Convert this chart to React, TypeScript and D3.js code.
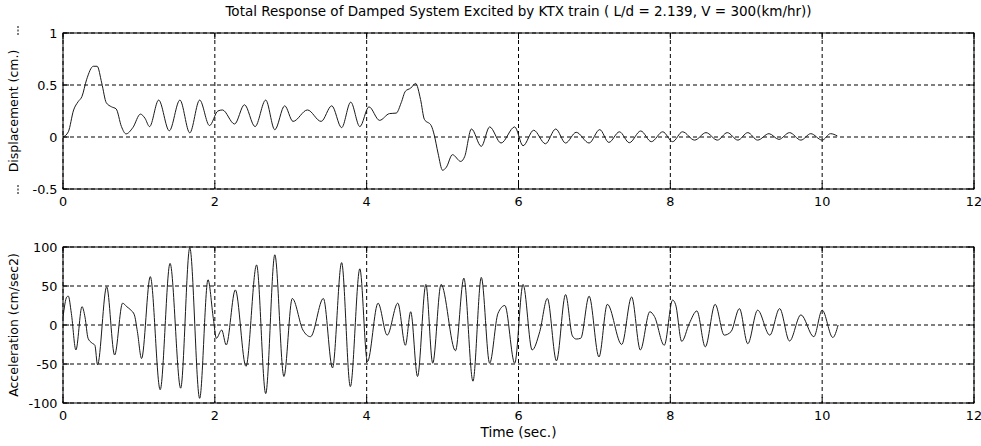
import * as d3 from "d3";

const W = 981;
const H = 446;

const title =
  "Total Response of Damped System Excited by KTX train ( L/d = 2.139, V = 300(km/hr))";

const timeTicks = [0, 2, 4, 6, 8, 10, 12];
const dispTicks = [-0.5, 0, 0.5, 1];
const accTicks = [-100, -50, 0, 50, 100];

// displacement (cm)
const dispT = [
  0, 0.07, 0.14, 0.2, 0.25, 0.31, 0.4, 0.45, 0.51, 0.57, 0.64, 0.7, 0.77, 0.83, 0.92, 1.02,
  1.08, 1.14, 1.26, 1.4, 1.54, 1.67, 1.8, 1.93, 2.04, 2.1, 2.26, 2.39, 2.53, 2.67, 2.79, 2.92,
  3.03, 3.22, 3.4, 3.54, 3.67, 3.79, 3.91, 4.03, 4.17, 4.3, 4.39, 4.455, 4.51, 4.58, 4.645,
  4.71, 4.76, 4.85, 4.89, 4.94, 5.0, 5.05, 5.13, 5.24, 5.29, 5.38, 5.51, 5.62, 5.77, 5.95,
  6.06, 6.2, 6.355, 6.49, 6.62, 6.76, 6.93, 7.07, 7.19, 7.33, 7.46, 7.61, 7.75, 7.9, 8.03,
  8.16, 8.32, 8.47, 8.62, 8.75, 8.89, 9.02, 9.15, 9.3, 9.43, 9.57, 9.72, 9.85, 10.0, 10.11,
  10.2,
];
const dispV = [
  0, 0.05, 0.26, 0.34, 0.39, 0.55, 0.68, 0.68, 0.52, 0.33, 0.29, 0.27, 0.1, 0.03, 0.09, 0.22,
  0.18, 0.1, 0.355, 0.06, 0.355, 0.04, 0.355, 0.11, 0.25, 0.26, 0.125, 0.31, 0.1, 0.355, 0.07,
  0.3, 0.15, 0.26, 0.15, 0.3, 0.09, 0.335, 0.1, 0.29, 0.16, 0.225, 0.23, 0.33, 0.44, 0.47,
  0.515, 0.36, 0.17, 0.11, 0.02, -0.155, -0.32, -0.29, -0.17, -0.235, -0.19, 0.077, -0.09,
  0.097, -0.058, 0.097, -0.084, 0.065, -0.065, 0.077, -0.058, 0.045, -0.058, 0.071, -0.052,
  0.05, -0.055, 0.058, -0.045, 0.05, -0.045, 0.05, -0.03, 0.042, -0.03, 0.042, -0.03, 0.042,
  -0.03, 0.032, -0.023, 0.042, -0.03, 0.032, -0.03, 0.032, 0.01,
];

// acceleration (cm/sec2)
const accT = [
  0, 0.05, 0.07, 0.11, 0.17, 0.25, 0.29, 0.33, 0.38, 0.42, 0.455, 0.575, 0.68, 0.785, 0.84,
  0.895, 0.94, 0.98, 1.035, 1.15, 1.28, 1.41, 1.55, 1.67, 1.8, 1.91, 1.98, 2.02, 2.09, 2.15,
  2.27, 2.41, 2.55, 2.67, 2.79, 2.91, 3.02, 3.16, 3.26, 3.43, 3.55, 3.67, 3.785, 3.91, 4.01,
  4.15, 4.27, 4.41, 4.51, 4.58, 4.67, 4.78, 4.87, 4.98, 5.17, 5.28, 5.4, 5.51, 5.62, 5.73,
  5.82, 5.95, 6.06, 6.18, 6.28, 6.38, 6.5, 6.62, 6.71, 6.76, 6.82, 6.93, 7.06, 7.17, 7.36,
  7.49, 7.605, 7.73, 7.79, 7.92, 8.03, 8.07, 8.15, 8.25, 8.35, 8.46, 8.59, 8.71, 8.8, 8.91,
  9.02, 9.15, 9.31, 9.44, 9.57, 9.72, 9.89, 10.0, 10.14, 10.21,
];
const accV = [
  10, 36, 37, 15, -32, 23.5, 10, -17, -23, -26, -51, 49, -38.5, 28, 23.5, 19, 13, -8.5, -43,
  62, -83, 79, -81, 99, -94, 58, 8.5, -17, -6.4, -25.6, 45, -53, 77, -88, 90, -66, 34, -6.4,
  -15, 34, -55, 80, -79, 72, -47, 28, -13, 28, -26, 17, -66, 52, -49, 52, -33, 60, -72, 61,
  -49, 15, 25, -49, 52, -32, -8.5, 34, -46, 39, -14, -18, -17, 37, -41, 26.5, -25, 36, -32,
  17, 11, -26, 32, 26, -21, 2, 18, -28, 26.5, -13, -8.5, 21, -24, 19, -13, 21, -20.5, 13,
  -15, 19, -16, 0,
];

const font = "'DejaVu Sans', sans-serif";
const left = 63;
const right = 974;
const tickLen = 6;

const x = d3.scaleLinear().domain([0, 12]).range([left, right]);

type PanelProps = {
  top: number;
  bottom: number;
  domain: [number, number];
  ticks: number[];
  t: number[];
  v: number[];
  label: string;
};

function Panel({ top, bottom, domain, ticks, t, v, label }: PanelProps) {
  const y = d3.scaleLinear().domain(domain).range([bottom, top]);
  const line = d3
    .line<number>()
    .x((d) => x(d))
    .y((_, i) => y(v[i]))
    .curve(d3.curveMonotoneX);
  const mid = (top + bottom) / 2;

  return (
    <g>
      {/* grid */}
      {timeTicks.map((d) => (
        <line key={"gx" + d} x1={x(d)} x2={x(d)} y1={top} y2={bottom}
          stroke="#000" strokeDasharray="4,3" />
      ))}
      {ticks.map((d) => (
        <line key={"gy" + d} x1={left} x2={right} y1={y(d)} y2={y(d)}
          stroke="#000" strokeDasharray="4,3" />
      ))}
      <path d={line(t) ?? ""} fill="none" stroke="#1a1a1a" strokeWidth={1} />
      {/* box + inward ticks */}
      <rect x={left} y={top} width={right - left} height={bottom - top}
        fill="none" stroke="#000" strokeWidth={1} />
      {timeTicks.map((d) => (
        <g key={"tx" + d}>
          <line x1={x(d)} x2={x(d)} y1={bottom} y2={bottom - tickLen} stroke="#000" />
          <line x1={x(d)} x2={x(d)} y1={top} y2={top + tickLen} stroke="#000" />
          <text x={x(d)} y={bottom + 17} textAnchor="middle" fontSize={12.8} fontFamily={font}>
            {d}
          </text>
        </g>
      ))}
      {ticks.map((d) => (
        <g key={"ty" + d}>
          <line x1={left} x2={left + tickLen} y1={y(d)} y2={y(d)} stroke="#000" />
          <line x1={right} x2={right - tickLen} y1={y(d)} y2={y(d)} stroke="#000" />
          <text x={left - 5.5} y={y(d)} dy="0.36em" textAnchor="end" fontSize={12.8}
            fontFamily={font}>
            {d}
          </text>
        </g>
      ))}
      <text transform={`translate(17.5,${mid}) rotate(-90)`} textAnchor="middle"
        fontSize={12.5} fontFamily={font}>
        {label}
      </text>
    </g>
  );
}

export default function App() {
  return (
    <svg width={W} height={H} style={{ position: "absolute", left: 0, top: 0, background: "#fff" }}>
      <rect width={W} height={H} fill="#fff" />
      <text x={(left + right) / 2} y={16} textAnchor="middle" fontSize={13.5} fontFamily={font}>
        {title}
      </text>
      <Panel top={33} bottom={189} domain={[-0.5, 1]} ticks={dispTicks}
        t={dispT} v={dispV} label="Displacement (cm.)" />
      <Panel top={247} bottom={403} domain={[-100, 100]} ticks={accTicks}
        t={accT} v={accV} label="Acceleration (cm/sec2)" />
      {/* small dotted marks beside the upper y label */}
      <line x1={18} x2={18} y1={26} y2={36} stroke="#000" strokeDasharray="2,1.5" />
      <line x1={18} x2={18} y1={185} y2={195} stroke="#000" strokeDasharray="2,1.5" />
      <text x={(left + right) / 2} y={437} textAnchor="middle" fontSize={13.7} fontFamily={font}>
        Time (sec.)
      </text>
    </svg>
  );
}
